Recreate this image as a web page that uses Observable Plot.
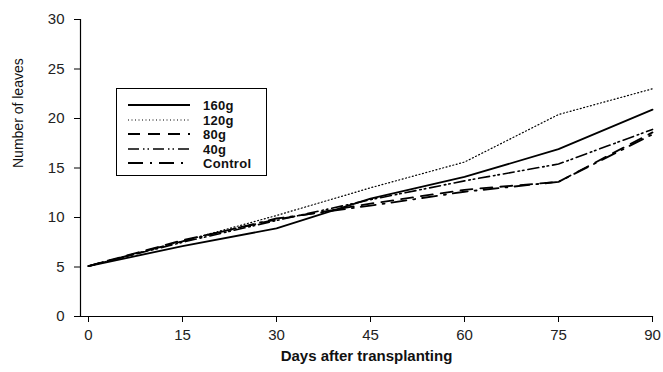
<!DOCTYPE html>
<html>
<head>
<meta charset="utf-8">
<script src="https://cdn.jsdelivr.net/npm/d3@7"></script>
<script src="https://cdn.jsdelivr.net/npm/@observablehq/plot@0.6"></script>
<style>
  body { margin: 0; background: #fff; }
  #wrap { position: relative; width: 663px; height: 372px; font-family: Arial, "Liberation Sans", sans-serif; }
  #legend { position: absolute; left: 116px; top: 88px; width: 151px; height: 88px; border: 1px solid #000; background: #fff; box-sizing: border-box; }
  .row { position: absolute; left: 0; height: 14px; display: flex; align-items: center; }
  .row svg { margin-left: 11px; }
  .row span { margin-left: 13px; font-size: 13px; color: #111; font-weight: 600; letter-spacing: 0.3px; }
</style>
</head>
<body>
<div id="wrap"><div id="legend"></div></div>
<script>
const days = [0, 15, 30, 45, 60, 75, 90];
const seriesNames = ["160g", "120g", "80g", "40g", "Control"];
const s160 = [5.1, 7.1, 8.9, 11.9, 14.1, 16.9, 20.9];
const s120 = [5.1, 7.6, 10.2, 13.0, 15.6, 20.4, 23.0];
const s80 = [5.1, 7.7, 9.8, 11.4, 12.8, 13.6, 18.6];
const s40 = [5.1, 7.5, 9.7, 11.8, 13.7, 15.4, 18.9];
const sControl = [5.1, 7.6, 9.9, 11.2, 12.6, 13.6, 18.4];
const xTicks = [0, 15, 30, 45, 60, 75, 90];
const yTicks = [0, 5, 10, 15, 20, 25, 30];

const values = [s160, s120, s80, s40, sControl];
const styles = {
  "160g": {dash: null, width: 1.8},
  "120g": {dash: "1,2.5", width: 1.2},
  "80g": {dash: "12,8", width: 1.8},
  "40g": {dash: "11,4,1.5,3,1.5,4", width: 1.6},
  "Control": {dash: "15,7,2,7", width: 1.8}
};

const data = seriesNames.flatMap((name, i) =>
  days.map((d, j) => ({series: name, day: d, value: values[i][j]})));

const lineMarks = seriesNames.map(name => Plot.line(data.filter(d => d.series === name), {
  x: "day", y: "value", stroke: "#000",
  strokeWidth: styles[name].width,
  strokeDasharray: styles[name].dash,
  strokeLinejoin: "round"
}));

const chart = Plot.plot({
  width: 663,
  height: 372,
  marginLeft: 80,
  marginRight: 11,
  marginTop: 19,
  marginBottom: 56,
  insetLeft: 8,
  style: {fontFamily: "Arial, 'Liberation Sans', sans-serif", background: "#fff", color: "#000"},
  x: {domain: [0, 90]},
  y: {domain: [0, 30]},
  marks: [
    Plot.frame({anchor: "left", stroke: "#000", strokeWidth: 1.2}),
    Plot.frame({anchor: "bottom", stroke: "#000", strokeWidth: 1.2}),
    Plot.axisX({ticks: xTicks, tickSize: 6, tickPadding: 7, fontSize: 15, label: null, fill: "#222", stroke: "#000"}),
    Plot.axisY({ticks: yTicks, tickSize: 6, tickPadding: 10, fontSize: 15, label: null, fill: "#222", stroke: "#000"}),
    ...lineMarks,
    Plot.text(["Days after transplanting"], {frameAnchor: "bottom", dy: 44, fontSize: 15, fontWeight: "bold", fill: "#111"}),
    Plot.text(["Number of leaves"], {frameAnchor: "left", dx: -62, rotate: -90, fontSize: 14, fill: "#111"})
  ]
});
document.getElementById("wrap").prepend(chart);

const legend = document.getElementById("legend");
const rowTops = [9, 24, 38, 53, 67];
seriesNames.forEach((name, i) => {
  const row = document.createElement("div");
  row.className = "row";
  row.style.top = rowTops[i] + "px";
  const st = styles[name];
  row.innerHTML = `<svg width="62" height="6"><line x1="0" y1="3" x2="62" y2="3" stroke="#000" stroke-width="${st.width}" ${st.dash ? `stroke-dasharray="${st.dash}"` : ""}/></svg><span>${name}</span>`;
  legend.appendChild(row);
});
</script>
</body>
</html>
